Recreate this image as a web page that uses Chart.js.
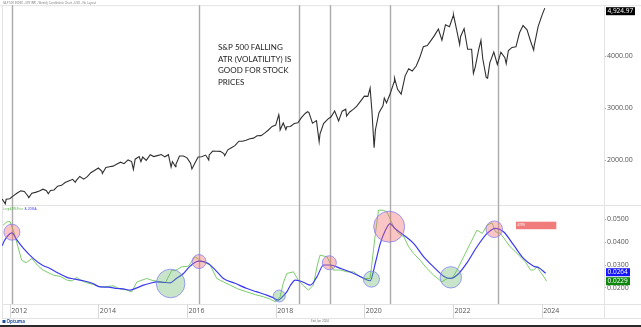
<!DOCTYPE html>
<html>
<head>
<meta charset="utf-8">
<script src="https://cdn.jsdelivr.net/npm/chart.js@4.4.1/dist/chart.umd.min.js"></script>
<style>
  html, body { margin: 0; padding: 0; background: #fff; overflow: hidden; }
  canvas { display: block; }
</style>
</head>
<body>
<canvas id="chart" width="641" height="327"></canvas>
<script>
// S&P 500 weekly closes (sampled monthly plus the big swings), decimal years
const priceYears = [
  2011.83, 2011.90, 2011.92, 2012.00, 2012.08, 2012.17, 2012.25, 2012.33, 2012.41, 2012.43,
  2012.50, 2012.58, 2012.67, 2012.75, 2012.83, 2012.87, 2012.92, 2013.00, 2013.08, 2013.17,
  2013.25, 2013.33, 2013.42, 2013.48, 2013.50, 2013.58, 2013.67, 2013.75, 2013.83, 2013.92,
  2014.00, 2014.08, 2014.09, 2014.17, 2014.25, 2014.33, 2014.42, 2014.50, 2014.58, 2014.67,
  2014.75, 2014.79, 2014.83, 2014.92, 2014.96, 2015.00, 2015.08, 2015.17, 2015.25, 2015.33,
  2015.42, 2015.50, 2015.58, 2015.64, 2015.67, 2015.74, 2015.75, 2015.83, 2015.92, 2016.00,
  2016.08, 2016.11, 2016.17, 2016.25, 2016.33, 2016.42, 2016.49, 2016.50, 2016.58, 2016.67,
  2016.75, 2016.83, 2016.85, 2016.92, 2017.00, 2017.08, 2017.17, 2017.25, 2017.33, 2017.42,
  2017.50, 2017.58, 2017.67, 2017.75, 2017.83, 2017.92, 2018.00, 2018.07, 2018.08, 2018.10,
  2018.17, 2018.23, 2018.25, 2018.33, 2018.42, 2018.50, 2018.58, 2018.67, 2018.72, 2018.75,
  2018.83, 2018.92, 2018.98, 2019.00, 2019.08, 2019.17, 2019.25, 2019.33, 2019.42, 2019.50,
  2019.58, 2019.60, 2019.67, 2019.75, 2019.83, 2019.92, 2020.00, 2020.08, 2020.13, 2020.17,
  2020.22, 2020.25, 2020.33, 2020.42, 2020.45, 2020.50, 2020.58, 2020.67, 2020.68, 2020.75,
  2020.83, 2020.92, 2021.00, 2021.08, 2021.17, 2021.25, 2021.33, 2021.42, 2021.50, 2021.58,
  2021.67, 2021.75, 2021.83, 2021.92, 2022.00, 2022.01, 2022.08, 2022.15, 2022.17, 2022.25,
  2022.33, 2022.42, 2022.46, 2022.50, 2022.58, 2022.63, 2022.67, 2022.75, 2022.78, 2022.83,
  2022.92, 2023.00, 2023.08, 2023.17, 2023.20, 2023.25, 2023.33, 2023.42, 2023.50, 2023.58,
  2023.67, 2023.75, 2023.82, 2023.83, 2023.92, 2024.00, 2024.07
];
const priceValues = [
  1253, 1158, 1247, 1258, 1312, 1366, 1408, 1398, 1310, 1278,
  1362, 1379, 1407, 1441, 1412, 1353, 1416, 1426, 1498, 1515,
  1569, 1598, 1631, 1573, 1606, 1686, 1633, 1682, 1757, 1806,
  1848, 1783, 1741, 1859, 1872, 1884, 1924, 1960, 1931, 2003,
  1972, 1821, 2018, 2068, 1972, 2059, 1995, 2105, 2068, 2086,
  2107, 2063, 2104, 1867, 1972, 1872, 1920, 2079, 2080, 2044,
  1940, 1829, 1932, 2060, 2065, 2097, 2000, 2099, 2174, 2171,
  2168, 2126, 2085, 2199, 2239, 2279, 2364, 2363, 2384, 2412,
  2423, 2470, 2472, 2519, 2575, 2648, 2674, 2873, 2824, 2581,
  2714, 2588, 2641, 2648, 2705, 2718, 2816, 2902, 2931, 2914,
  2712, 2760, 2351, 2507, 2704, 2784, 2834, 2946, 2752, 2942,
  2980, 2847, 2926, 2977, 3038, 3141, 3231, 3226, 3386, 2954,
  2237, 2585, 2912, 3044, 3193, 3100, 3271, 3500, 3580, 3363,
  3270, 3622, 3756, 3714, 3811, 3973, 4181, 4204, 4298, 4395,
  4523, 4308, 4605, 4567, 4766, 4797, 4516, 4225, 4374, 4530,
  4132, 4132, 3667, 3785, 4130, 4305, 3955, 3586, 3577, 3872,
  4080, 3840, 4077, 3970, 3855, 4109, 4169, 4180, 4450, 4589,
  4508, 4288, 4117, 4194, 4568, 4770, 4924.97
];

// Long ATR % of price (green)
const atrYears = [
  2011.85, 2011.94, 2012.01, 2012.10, 2012.27, 2012.37, 2012.50, 2012.62, 2012.75, 2012.98,
  2013.14, 2013.29, 2013.41, 2013.51, 2013.61, 2013.74, 2013.88, 2014.04, 2014.17, 2014.33,
  2014.49, 2014.64, 2014.75, 2014.87, 2014.96, 2015.09, 2015.21, 2015.35, 2015.51, 2015.66,
  2015.73, 2015.88, 2016.03, 2016.18, 2016.30, 2016.41, 2016.52, 2016.67, 2016.82, 2016.97,
  2017.15, 2017.35, 2017.54, 2017.72, 2017.88, 2017.99, 2018.10, 2018.17, 2018.25, 2018.40,
  2018.51, 2018.62, 2018.74, 2018.85, 2018.94, 2019.00, 2019.16, 2019.30, 2019.46, 2019.61,
  2019.76, 2019.86, 2019.98, 2020.13, 2020.25, 2020.32, 2020.43, 2020.51, 2020.66, 2020.77,
  2020.89, 2021.00, 2021.11, 2021.26, 2021.41, 2021.56, 2021.75, 2021.87, 2021.98, 2022.09,
  2022.24, 2022.39, 2022.54, 2022.66, 2022.77, 2022.88, 2022.96, 2023.07, 2023.18, 2023.29,
  2023.41, 2023.52, 2023.63, 2023.75, 2023.82, 2023.90, 2023.97, 2024.05, 2024.11
];
const atrValues = [
  0.0475, 0.0490, 0.0490, 0.0440, 0.0321, 0.0310, 0.0329, 0.0300, 0.0278, 0.0256,
  0.0250, 0.0234, 0.0230, 0.0246, 0.0232, 0.0222, 0.0215, 0.0204, 0.0205, 0.0209,
  0.0195, 0.0190, 0.0182, 0.0226, 0.0232, 0.0241, 0.0233, 0.0228, 0.0222, 0.0278,
  0.0275, 0.0292, 0.0295, 0.0336, 0.0321, 0.0310, 0.0300, 0.0241, 0.0226, 0.0212,
  0.0195, 0.0182, 0.0170, 0.0161, 0.0150, 0.0139, 0.0161, 0.0220, 0.0263, 0.0270,
  0.0234, 0.0210, 0.0190, 0.0212, 0.0300, 0.0343, 0.0336, 0.0278, 0.0278, 0.0270,
  0.0270, 0.0255, 0.0241, 0.0241, 0.0439, 0.0541, 0.0540, 0.0533, 0.0468, 0.0439,
  0.0424, 0.0380, 0.0351, 0.0321, 0.0285, 0.0256, 0.0226, 0.0241, 0.0241, 0.0278,
  0.0336, 0.0395, 0.0453, 0.0439, 0.0475, 0.0485, 0.0446, 0.0439, 0.0409, 0.0380,
  0.0358, 0.0336, 0.0314, 0.0278, 0.0278, 0.0292, 0.0270, 0.0248, 0.0229
];

// 20 period moving average of it (blue)
const maYears = [
  2011.83, 2011.89, 2012.05, 2012.16, 2012.31, 2012.53, 2012.73, 2012.91, 2013.09, 2013.29,
  2013.47, 2013.66, 2013.86, 2014.04, 2014.22, 2014.42, 2014.56, 2014.72, 2014.87, 2015.02,
  2015.17, 2015.32, 2015.46, 2015.62, 2015.75, 2015.92, 2016.07, 2016.26, 2016.48, 2016.63,
  2016.82, 2017.08, 2017.35, 2017.56, 2017.80, 2017.94, 2018.06, 2018.15, 2018.25, 2018.33,
  2018.44, 2018.55, 2018.67, 2018.78, 2018.93, 2019.08, 2019.23, 2019.46, 2019.76, 2019.95,
  2020.13, 2020.25, 2020.36, 2020.47, 2020.58, 2020.69, 2020.89, 2021.11, 2021.34, 2021.56,
  2021.79, 2021.94, 2022.13, 2022.33, 2022.54, 2022.77, 2022.96, 2023.14, 2023.37, 2023.59,
  2023.82, 2023.93, 2024.09
];
const maValues = [
  0.0385, 0.0410, 0.0441, 0.0410, 0.0373, 0.0329, 0.0300, 0.0285, 0.0265, 0.0246,
  0.0238, 0.0231, 0.0220, 0.0204, 0.0203, 0.0197, 0.0195, 0.0190, 0.0200, 0.0212,
  0.0220, 0.0226, 0.0224, 0.0222, 0.0240, 0.0263, 0.0295, 0.0317, 0.0307, 0.0280,
  0.0241, 0.0220, 0.0197, 0.0183, 0.0168, 0.0157, 0.0146, 0.0160, 0.0182, 0.0210,
  0.0234, 0.0230, 0.0220, 0.0212, 0.0248, 0.0300, 0.0300, 0.0285, 0.0263, 0.0245,
  0.0231, 0.0310, 0.0395, 0.0450, 0.0482, 0.0460, 0.0431, 0.0395, 0.0336, 0.0292,
  0.0251, 0.0241, 0.0263, 0.0314, 0.0380, 0.0439, 0.0461, 0.0446, 0.0387, 0.0329,
  0.0295, 0.0289, 0.0264
];

// highlighted volatility peaks / troughs
const circleYears  = [2012.05, 2015.63, 2016.27, 2018.08, 2019.21, 2020.16, 2020.56, 2021.95, 2022.93];
const circleValues = [0.0444, 0.0219, 0.0315, 0.0164, 0.0310, 0.0238, 0.0468, 0.0246, 0.0457];
const circleKinds  = ['high', 'low', 'high', 'low', 'high', 'low', 'high', 'low', 'high'];
const circleRadii  = [8, 14.3, 7, 6, 7, 8, 15.5, 10.7, 8.3];

const markerYears = [2012.05, 2016.27, 2018.53, 2019.23, 2020.58, 2023.02];
const yearTicks = [2012, 2014, 2016, 2018, 2020, 2022, 2024];
const priceTicks = [2000, 3000, 4000];
const atrTicks = [0.02, 0.03, 0.04, 0.05];

const noteLines = ['S&P 500 FALLING', 'ATR (VOLATILITY) IS', 'GOOD FOR STOCK', 'PRICES'];
const headerText = 'S&P 500 INDEX - SPX (RR) - Weekly Candlestick Chart - USD - No Layout';

const pairs = (xs, ys) => xs.map((x, i) => ({ x: x, y: ys[i] }));
const tickFont = { family: 'Open Sans', size: 7 };

function badge(ctx, x, yMid, w, text, bg) {
    ctx.fillStyle = bg;
    ctx.fillRect(x, yMid - 4, w, 8);
    ctx.fillStyle = '#fff';
    ctx.font = '6.5px "Open Sans"';
    ctx.textAlign = 'left';
    ctx.textBaseline = 'middle';
    ctx.fillText(text, x + 1.5, yMid + 0.3);
}

const overlay = {
    id: 'overlay',
    beforeDatasetsDraw: function (chart) {
        const { ctx, chartArea: a, scales } = chart;
        const W = chart.width;
        ctx.save();
        // frame and panel separators
        ctx.strokeStyle = '#e3e3e3';
        ctx.lineWidth = 1;
        ctx.beginPath();
        ctx.moveTo(0, a.top + 0.5); ctx.lineTo(W, a.top + 0.5);
        ctx.moveTo(a.left + 0.5, a.top); ctx.lineTo(a.left + 0.5, a.bottom + 14);
        ctx.moveTo(a.right + 0.5, a.top); ctx.lineTo(a.right + 0.5, a.bottom + 14);
        const sep = Math.round(scales.y.bottom) + 0.5;
        ctx.moveTo(a.left, sep); ctx.lineTo(W, sep);
        ctx.moveTo(a.left, a.bottom + 0.5); ctx.lineTo(W, a.bottom + 0.5);
        ctx.moveTo(a.left, a.bottom + 14.5); ctx.lineTo(W, a.bottom + 14.5);
        ctx.stroke();
        // year separators in the axis row
        ctx.strokeStyle = '#d8d8d8';
        ctx.beginPath();
        yearTicks.forEach(function (yr) {
            const px = Math.round(scales.x.getPixelForValue(yr)) + 0.5;
            ctx.moveTo(px, a.bottom); ctx.lineTo(px, a.bottom + 14);
        });
        ctx.stroke();
        // event markers through both panels
        ctx.strokeStyle = '#ababab';
        ctx.lineWidth = 1.4;
        ctx.beginPath();
        markerYears.forEach(function (yr) {
            const px = Math.round(scales.x.getPixelForValue(yr)) + 0.5;
            ctx.moveTo(px, a.top); ctx.lineTo(px, a.bottom);
        });
        ctx.stroke();
        ctx.restore();
    },
    afterDraw: function (chart) {
        const { ctx, chartArea: a, scales } = chart;
        const x = scales.x, y = scales.y, y2 = scales.y2;
        ctx.save();

        // header
        ctx.fillStyle = '#777';
        ctx.font = '3.5px "Open Sans"';
        ctx.textBaseline = 'middle';
        ctx.textAlign = 'left';
        ctx.fillText(headerText, 3, 2.8, 93);

        // note text
        ctx.fillStyle = '#222';
        ctx.font = '8px Lato';
        noteLines.forEach(function (t, i) {
            ctx.fillText(t, 218, 47.5 + i * 11.5);
        });

        // indicator legend
        ctx.font = '3.5px "Open Sans"';
        ctx.fillStyle = '#4caf3a';
        ctx.fillText('Long ATR%Price', 3, y2.top + 3.5, 20);
        ctx.fillStyle = '#3535f0';
        ctx.fillText('& 20MA', 24.5, y2.top + 3.5, 12);

        // small red label box
        const bx = x.getPixelForValue(2023.42), bx2 = x.getPixelForValue(2024.33);
        const by = y2.getPixelForValue(0.0490), by2 = y2.getPixelForValue(0.0457);
        ctx.fillStyle = '#f07c7c';
        ctx.fillRect(bx, by, bx2 - bx, by2 - by);
        ctx.fillStyle = '#fff';
        ctx.font = '3px "Open Sans"';
        ctx.fillText('ATR%', bx + 1.5, (by + by2) / 2, 8);

        // last value badges
        const lastPrice = priceValues[priceValues.length - 1];
        const py = Math.max(y.getPixelForValue(lastPrice), a.top + 6);
        badge(ctx, a.right + 2, py, 29,
            lastPrice.toLocaleString('en-US', { minimumFractionDigits: 2, maximumFractionDigits: 2 }), '#000');
        badge(ctx, a.right + 2, y2.getPixelForValue(maValues[maValues.length - 1]) - 1, 24,
            maValues[maValues.length - 1].toFixed(4), '#1414ff');
        badge(ctx, a.right + 2, y2.getPixelForValue(atrValues[atrValues.length - 1]), 24,
            atrValues[atrValues.length - 1].toFixed(4), '#0c870c');

        // footer
        ctx.fillStyle = '#1d4f9a';
        ctx.fillRect(2.5, 320, 3, 3);
        ctx.font = 'bold 4.5px "Open Sans"';
        ctx.fillText('Optuma', 6.5, 321.8);
        ctx.fillStyle = '#666';
        ctx.font = '3px "Open Sans"';
        ctx.fillText('Exit Jan 2024', 311, 321.5, 19);
        ctx.fillStyle = '#2a2a2a';
        ctx.fillRect(0, 325, chart.width, 2);
        ctx.restore();
    }
};

const ctx = document.getElementById('chart').getContext('2d');
const chart = new Chart(ctx, {
    type: 'line',
    data: {
        datasets: [
            {
                label: 'S&P 500',
                data: pairs(priceYears, priceValues),
                yAxisID: 'y',
                borderColor: '#303030',
                borderWidth: 1.1,
                pointRadius: 0,
                order: 3
            },
            {
                label: 'Long ATR%Price',
                data: pairs(atrYears, atrValues),
                yAxisID: 'y2',
                borderColor: '#7dcc6a',
                borderWidth: 1,
                pointRadius: 0,
                order: 2
            },
            {
                label: '20MA',
                data: pairs(maYears, maValues),
                yAxisID: 'y2',
                borderColor: '#3a3af2',
                borderWidth: 1.2,
                pointRadius: 0,
                cubicInterpolationMode: 'monotone',
                order: 1
            },
            {
                type: 'bubble',
                label: 'circles',
                data: circleYears.map((cx, i) => ({ x: cx, y: circleValues[i], r: circleRadii[i] })),
                yAxisID: 'y2',
                backgroundColor: circleKinds.map(k => k === 'high' ? 'rgba(240,110,110,0.4)' : 'rgba(100,180,100,0.35)'),
                borderColor: 'rgba(125,125,250,0.75)',
                borderWidth: 1,
                order: 0
            }
        ]
    },
    options: {
        responsive: false,
        animation: false,
        events: [],
        layout: { autoPadding: false, padding: { top: 5, left: 2, right: 0, bottom: 9 } },
        plugins: { legend: { display: false }, tooltip: { enabled: false } },
        scales: {
            x: {
                type: 'linear',
                min: 2011.826,
                max: 2025.406,
                afterBuildTicks: s => { s.ticks = yearTicks.map(v => ({ value: v })); },
                afterFit: s => { s.height = 14; },
                grid: { display: false, drawTicks: false },
                border: { display: false },
                ticks: {
                    align: 'start',
                    labelOffset: 1.5,
                    padding: 3,
                    maxRotation: 0,
                    autoSkip: false,
                    color: '#555',
                    font: tickFont,
                    callback: v => String(v)
                }
            },
            y: {
                type: 'linear',
                position: 'right',
                stack: 'panels',
                stackWeight: 200,
                min: 1135,
                max: 4981,
                afterBuildTicks: s => { s.ticks = priceTicks.map(v => ({ value: v })); },
                afterFit: s => { s.width = 37; },
                grid: { drawOnChartArea: false, tickLength: 2, color: '#aaa' },
                border: { display: false },
                ticks: { padding: 1, color: '#555', font: tickFont, callback: v => v.toFixed(2) }
            },
            y2: {
                type: 'linear',
                position: 'right',
                stack: 'panels',
                stackWeight: 99,
                min: 0.0129,
                max: 0.0563,
                afterBuildTicks: s => { s.ticks = atrTicks.map(v => ({ value: v })); },
                afterFit: s => { s.width = 37; },
                grid: { drawOnChartArea: false, tickLength: 2, color: '#aaa' },
                border: { display: false },
                ticks: { padding: 1, color: '#555', font: tickFont, callback: v => v.toFixed(4) }
            }
        }
    },
    plugins: [overlay]
});
</script>
</body>
</html>
